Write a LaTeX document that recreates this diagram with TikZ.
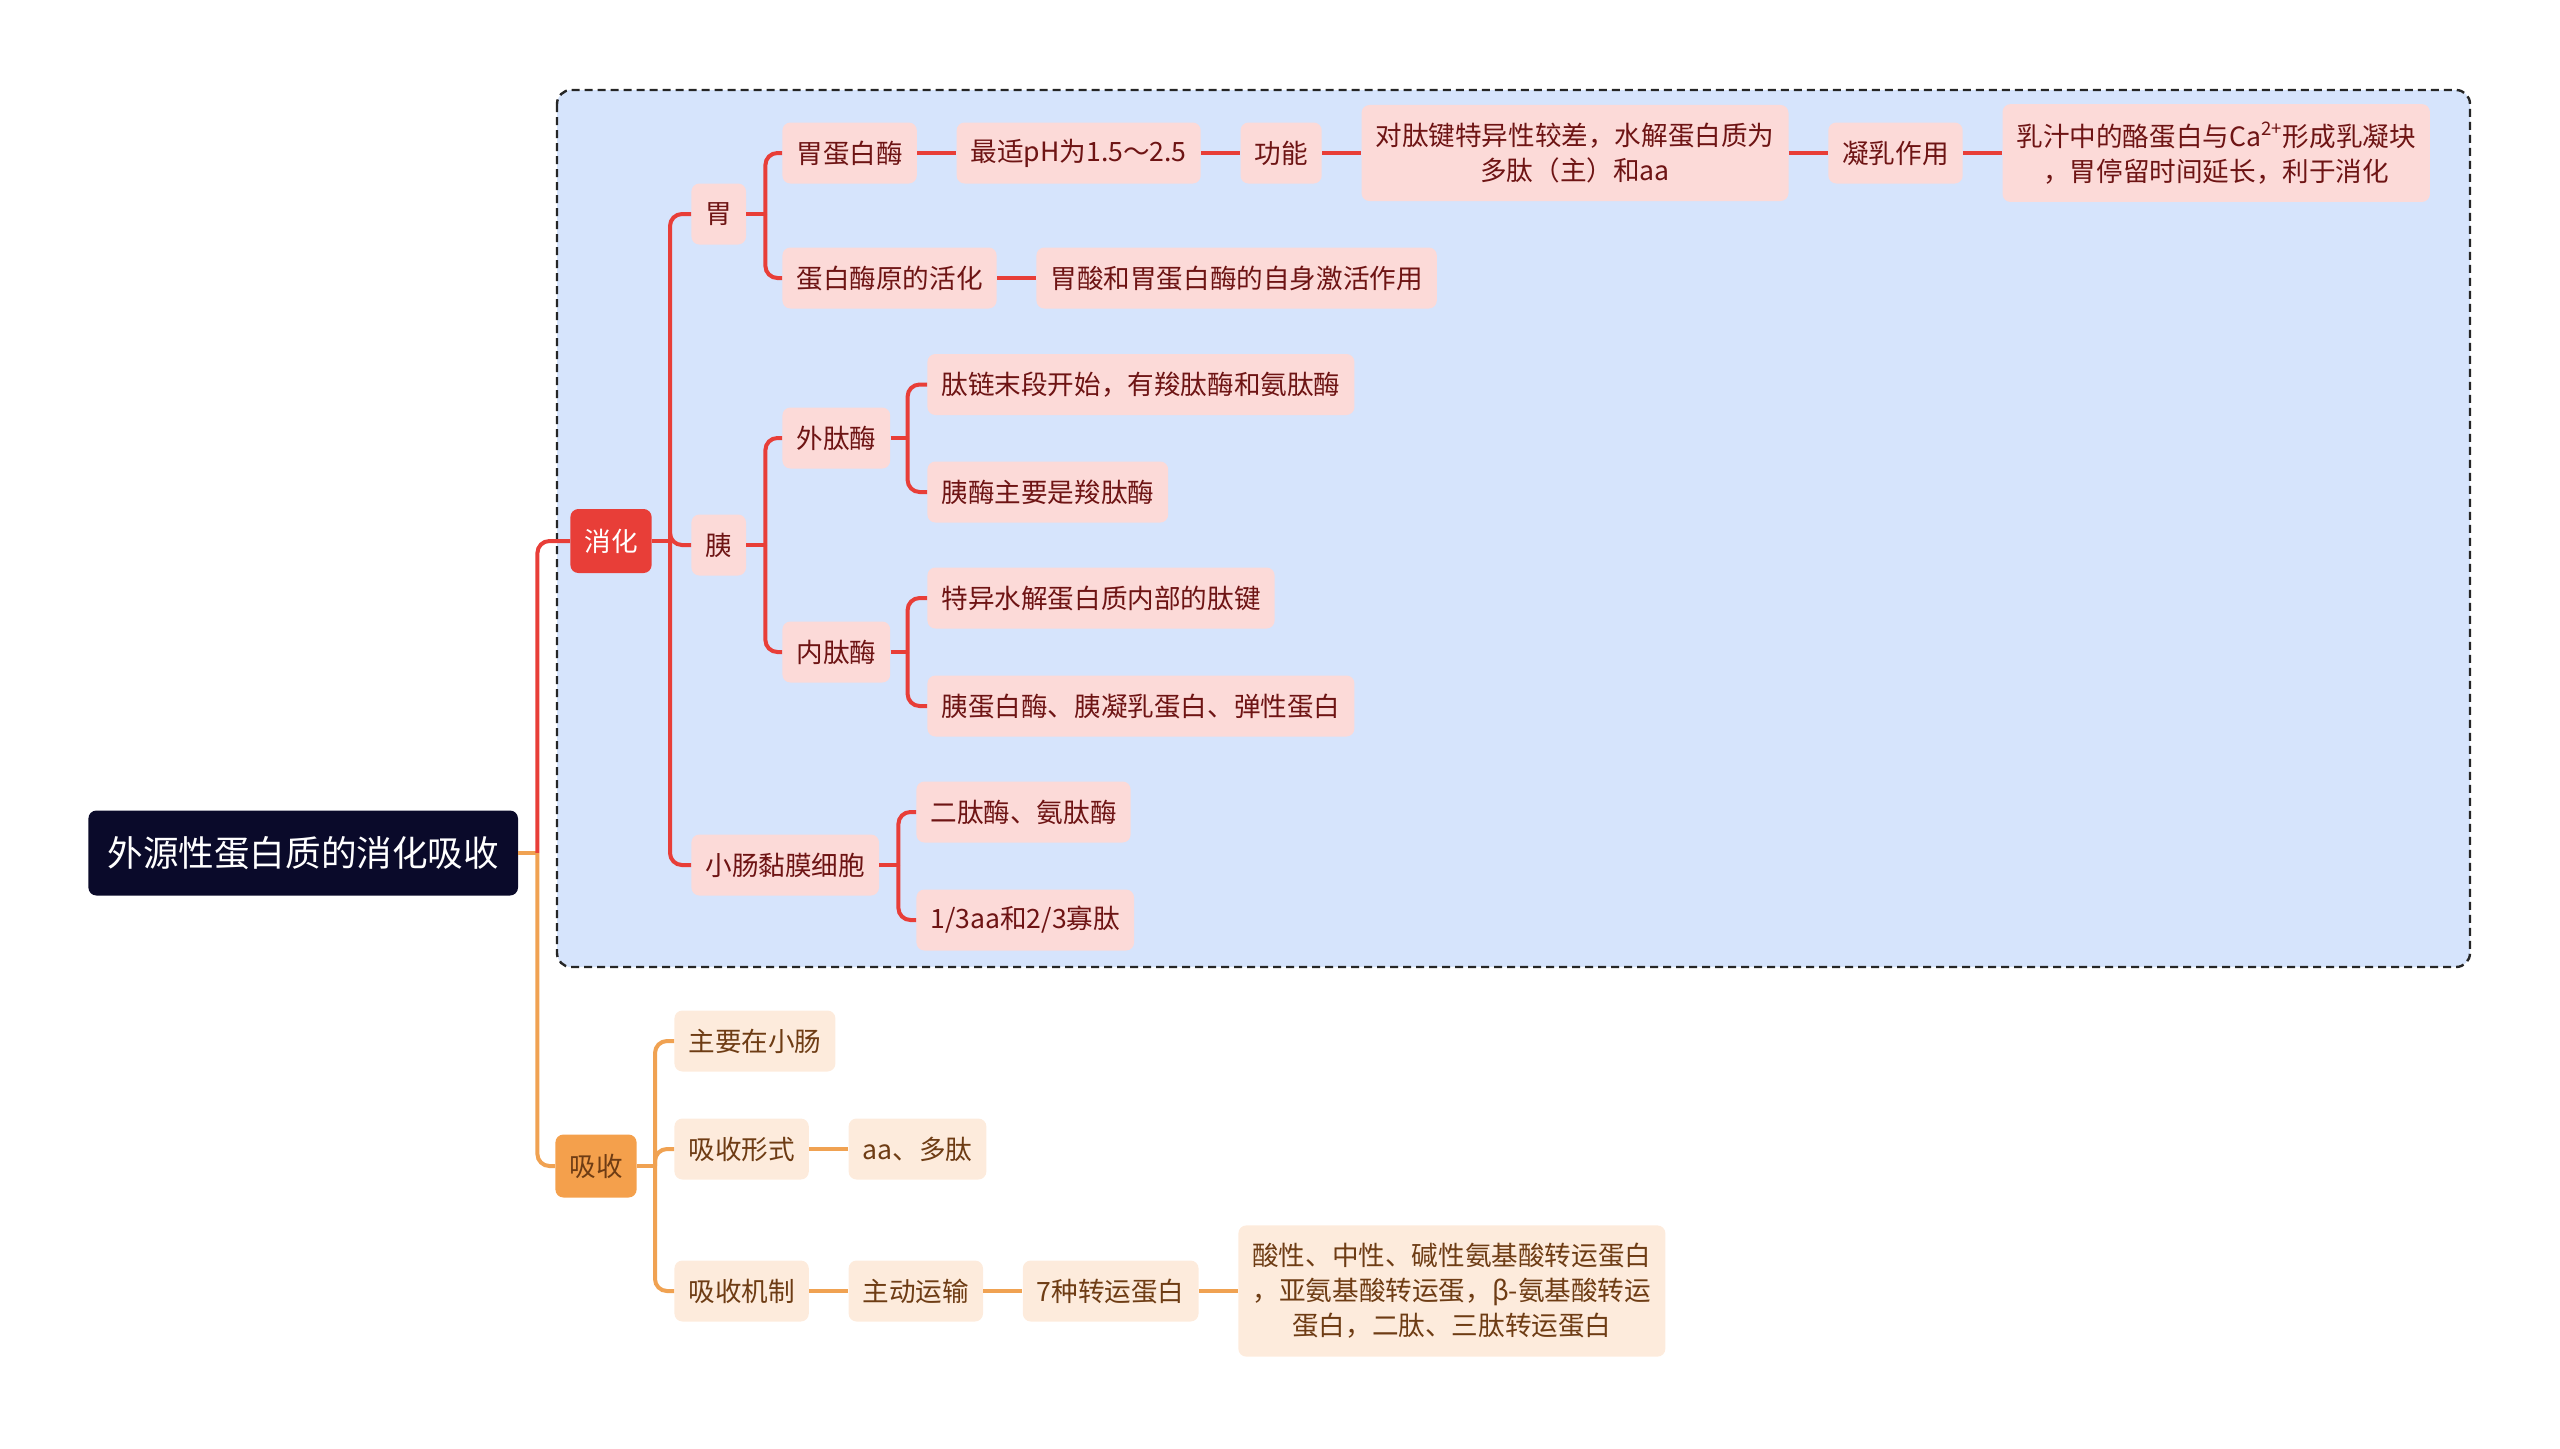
\documentclass[tikz,border=0pt]{standalone}
\usepackage{fontspec}
\setmainfont{Noto Sans CJK SC}
\usepackage{xcolor}
\usepackage{tikz}
\usetikzlibrary{positioning}
\definecolor{corFundo}{RGB}{214,228,252}
\definecolor{corRaiz}{RGB}{10,10,42}
\definecolor{corVermelho}{RGB}{232,62,56}
\definecolor{corRosa}{RGB}{252,218,216}
\definecolor{corTextoV}{RGB}{110,20,20}
\definecolor{corLaranja}{RGB}{244,160,76}
\definecolor{corPessego}{RGB}{253,235,220}
\definecolor{corTextoL}{RGB}{110,60,20}
\definecolor{corLinhaL}{RGB}{240,162,82}

\begin{document}
\begin{tikzpicture}[
    x=0.5pt, y=-0.5pt,
    elem/.style={rounded corners=4pt, minimum height=30.5pt, inner xsep=7pt, inner ysep=4pt,
                 align=center, font=\fontsize{13.3}{17.5}\selectfont},
    vbox/.style={elem, fill=corRosa, text=corTextoV},
    lbox/.style={elem, fill=corPessego, text=corTextoL},
    multi/.style={inner ysep=9pt},
    redln/.style={draw=corVermelho, line width=2pt, rounded corners=6pt},
    orgln/.style={draw=corLinhaL, line width=2pt, rounded corners=6pt},
    node distance=19.5pt
]
\useasboundingbox (0,0) rectangle (2560,1448);
\draw[fill=corFundo, draw=black!85, dash pattern=on 4pt off 2.5pt, line width=1.2pt, rounded corners=7pt] (557,90) rectangle (2470,967);

% raiz e ramos principais
\node[elem, fill=corRaiz, text=white, font=\fontsize{17.8}{22}\selectfont, minimum height=42.5pt, inner xsep=9.5pt, anchor=west] (root) at (88,853) {外源性蛋白质的消化吸收};
\node[elem, fill=corVermelho, text=white, minimum height=32pt, anchor=west] (xh) at (570,541) {消化};
\node[elem, fill=corLaranja, text=corTextoL, minimum height=31.5pt, anchor=west] (xs) at (555,1166) {吸收};

% digestao
\node[vbox, anchor=west] (wei) at (691,214) {胃};
\node[vbox, anchor=west] (yi) at (691,545) {胰};
\node[vbox, anchor=west] (xc) at (691,865) {小肠黏膜细胞};

\node[vbox, anchor=west] (wdb) at (782,153) {胃蛋白酶};
\node[vbox, right=of wdb] (ph) {最适pH为1.5～2.5};
\node[vbox, right=of ph] (gn) {功能};
\node[vbox, multi, right=of gn] (dtj) {对肽键特异性较差，水解蛋白质为\\多肽（主）和aa};
\node[vbox, right=of dtj] (nr) {凝乳作用};
\node[vbox, multi, right=of nr] (rz) {乳汁中的酪蛋白与Ca\textsuperscript{2+}形成乳凝块\\，胃停留时间延长，利于消化};
\node[vbox, anchor=west] (dby) at (782,278) {蛋白酶原的活化};
\node[vbox, right=of dby] (wsj) {胃酸和胃蛋白酶的自身激活作用};

\node[vbox, anchor=west] (wtm) at (782,438) {外肽酶};
\node[vbox, anchor=west] (ntm) at (782,652) {内肽酶};
\node[vbox, anchor=west] (w1) at (927,384.5) {肽链末段开始，有羧肽酶和氨肽酶};
\node[vbox, anchor=west] (w2) at (927,492) {胰酶主要是羧肽酶};
\node[vbox, anchor=west] (n1) at (927,598) {特异水解蛋白质内部的肽键};
\node[vbox, anchor=west] (n2) at (927,706) {胰蛋白酶、胰凝乳蛋白、弹性蛋白};
\node[vbox, anchor=west] (c1) at (916,812) {二肽酶、氨肽酶};
\node[vbox, anchor=west] (c2) at (916,920) {1/3aa和2/3寡肽};

% absorcao
\node[lbox, anchor=west] (a1) at (674,1041) {主要在小肠};
\node[lbox, anchor=west] (a2) at (674,1149) {吸收形式};
\node[lbox, anchor=west] (a3) at (674,1291) {吸收机制};
\node[lbox, right=of a2] (a4) {aa、多肽};
\node[lbox, right=of a3] (a5) {主动运输};
\node[lbox, right=of a5] (a6) {7种转运蛋白};
\node[lbox, multi, right=of a6] (a7) {酸性、中性、碱性氨基酸转运蛋白\\，亚氨基酸转运蛋，β-氨基酸转运\\蛋白，二肽、三肽转运蛋白};

% ligacoes
\draw[orgln] (root.east) -- ++(9.5pt,0) coordinate (rJ);
\draw[redln] (rJ) |- (xh.west);
\draw[orgln] (rJ) |- (xs.west);

\draw[redln] (xh.east) -- ++(9pt,0) coordinate (xhJ);
\foreach \c in {wei,yi,xc} \draw[redln] (xhJ) |- (\c.west);

\draw[redln] (wei.east) -- ++(9.5pt,0) coordinate (weiJ);
\foreach \c in {wdb,dby} \draw[redln] (weiJ) |- (\c.west);
\draw[redln] (yi.east) -- ++(9.5pt,0) coordinate (yiJ);
\foreach \c in {wtm,ntm} \draw[redln] (yiJ) |- (\c.west);
\draw[redln] (xc.east) -- ++(9.5pt,0) coordinate (xcJ);
\foreach \c in {c1,c2} \draw[redln] (xcJ) |- (\c.west);
\draw[redln] (wtm.east) -- ++(8.5pt,0) coordinate (wtmJ);
\foreach \c in {w1,w2} \draw[redln] (wtmJ) |- (\c.west);
\draw[redln] (ntm.east) -- ++(8.5pt,0) coordinate (ntmJ);
\foreach \c in {n1,n2} \draw[redln] (ntmJ) |- (\c.west);

\draw[redln] (wdb) -- (ph);
\draw[redln] (ph) -- (gn);
\draw[redln] (gn) -- (dtj);
\draw[redln] (dtj) -- (nr);
\draw[redln] (nr) -- (rz);
\draw[redln] (dby) -- (wsj);

\draw[orgln] (xs.east) -- ++(9pt,0) coordinate (xsJ);
\foreach \c in {a1,a2,a3} \draw[orgln] (xsJ) |- (\c.west);
\draw[orgln] (a2) -- (a4);
\draw[orgln] (a3) -- (a5);
\draw[orgln] (a5) -- (a6);
\draw[orgln] (a6) -- (a7);
\end{tikzpicture}
\end{document}
